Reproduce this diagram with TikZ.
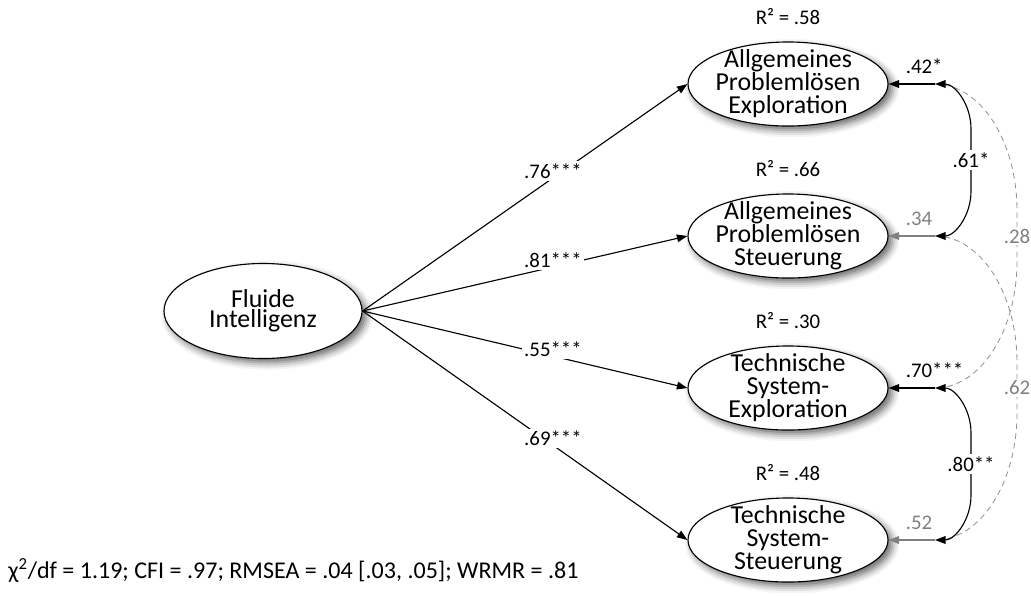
\documentclass[tikz,border=0pt]{standalone}
\usepackage{fontspec}
\setmainfont{Carlito}
\usetikzlibrary{shapes.geometric, arrows.meta, positioning, calc, shadows.blur}
\tikzset{
  latent/.style  = {ellipse, draw=black, line width=0.8pt, fill=white,
                    minimum width=5cm, minimum height=2.1cm, inner sep=0pt,
                    blur shadow={shadow xshift=3pt, shadow yshift=-3pt,
                                 shadow blur radius=5pt, shadow opacity=60}},
  lattext/.style = {align=center, inner sep=0pt,
                    font={\fontsize{18.4}{16.4}\selectfont\lineskiplimit=-50pt}},
  lbl/.style     = {font={\fontsize{14.8}{17}\selectfont}},
  rsq/.style     = {lbl, inner sep=0pt},
  reg/.style     = {-{Triangle[length=7.5pt,width=5.5pt]}, line width=0.8pt},
  cov/.style     = {{Triangle[length=7.5pt,width=5.5pt]}-{Triangle[length=7.5pt,width=5.5pt]},
                    line width=0.8pt},
  dcov/.style    = {black!42, line width=0.6pt, dash pattern=on 4pt off 3pt},
}

\begin{document}
\begin{tikzpicture}[
  x=0.025cm, y=-0.025cm,
  coef/.style={lbl, pos=.586, yshift=5pt, fill=white, inner sep=1.5pt},
  rlab/.style={lbl, pos=.64, anchor=base west, yshift=7.5pt, inner sep=0pt},
  clab/.style={lbl, midway, fill=white, inner sep=1.5pt},
  dlab/.style={lbl, midway, fill=white, text=black!50, inner sep=1pt},
]
  \useasboundingbox (0,0) rectangle (1031,595);

  \node[latent, minimum width=4.95cm, minimum height=2.375cm,
        label={[lattext, font={\fontsize{18.4}{14.2}\selectfont\lineskiplimit=-50pt}]center:Fluide\\Intelligenz}] (fi) at (263,311) {};
  \node[latent, label={[lattext]center:Allgemeines\\Problemlösen\\Exploration}] (e1) at (788,84) {};
  \node[latent, label={[lattext]center:Allgemeines\\Problemlösen\\Steuerung}] (e2) at (788,236) {};
  \node[latent, label={[lattext]center:Technische\\System-\\Exploration}] (e3) at (788,388) {};
  \node[latent, label={[lattext]center:Technische\\System-\\Steuerung}] (e4) at (788,540) {};

  \node[rsq, above=12pt of e1] (q1) {R² = .58};
  \node[rsq, above=12pt of e2] (q2) {R² = .66};
  \node[rsq, above=12pt of e3] (q3) {R² = .30};
  \node[rsq, above=12pt of e4] (q4) {R² = .48};

  \coordinate (r1) at (935,84);
  \coordinate (r2) at (935,236);
  \coordinate (r3) at (935,388);
  \coordinate (r4) at (935,540);

  \draw[reg] (fi.east) -- node[coef]{.76***} (e1.west);
  \draw[reg] (fi.east) -- node[coef]{.81***} (e2.west);
  \draw[reg] (fi.east) -- node[coef]{.55***} (e3.west);
  \draw[reg] (fi.east) -- node[coef]{.69***} (e4.west);

  \draw[dcov] (r1) arc[start angle=-90, end angle=0, x radius=82, y radius=127]
    -- node[dlab]{.28} ($(r3)+(82,-127)$)
    arc[start angle=0, end angle=90, x radius=82, y radius=127];
  \draw[dcov] (r2) arc[start angle=-90, end angle=0, x radius=82, y radius=127]
    -- node[dlab]{.62} ($(r4)+(82,-127)$)
    arc[start angle=0, end angle=90, x radius=82, y radius=127];

  \draw[reg] (r1) -- node[rlab]{.42*} (e1.east);
  \draw[reg, gray] (r2) -- node[rlab]{.34} (e2.east);
  \draw[reg] (r3) -- node[rlab]{.70***} (e3.east);
  \draw[reg, gray] (r4) -- node[rlab]{.52} (e4.east);

  \draw[cov] (r1) arc[start angle=-90, end angle=0, x radius=36, y radius=45]
    -- node[clab]{.61*} ($(r2)+(36,-45)$)
    arc[start angle=0, end angle=90, x radius=36, y radius=45];
  \draw[cov] (r3) arc[start angle=-90, end angle=0, x radius=36, y radius=45]
    -- node[clab]{.80**} ($(r4)+(36,-45)$)
    arc[start angle=0, end angle=90, x radius=36, y radius=45];

  \node[anchor=base west, inner sep=0pt, font={\fontsize{17.1}{20}\selectfont}] (gof) at (8,578)
    {χ\textsuperscript{2}/df = 1.19; CFI = .97; RMSEA = .04 [.03, .05]; WRMR = .81};
\end{tikzpicture}
\end{document}
